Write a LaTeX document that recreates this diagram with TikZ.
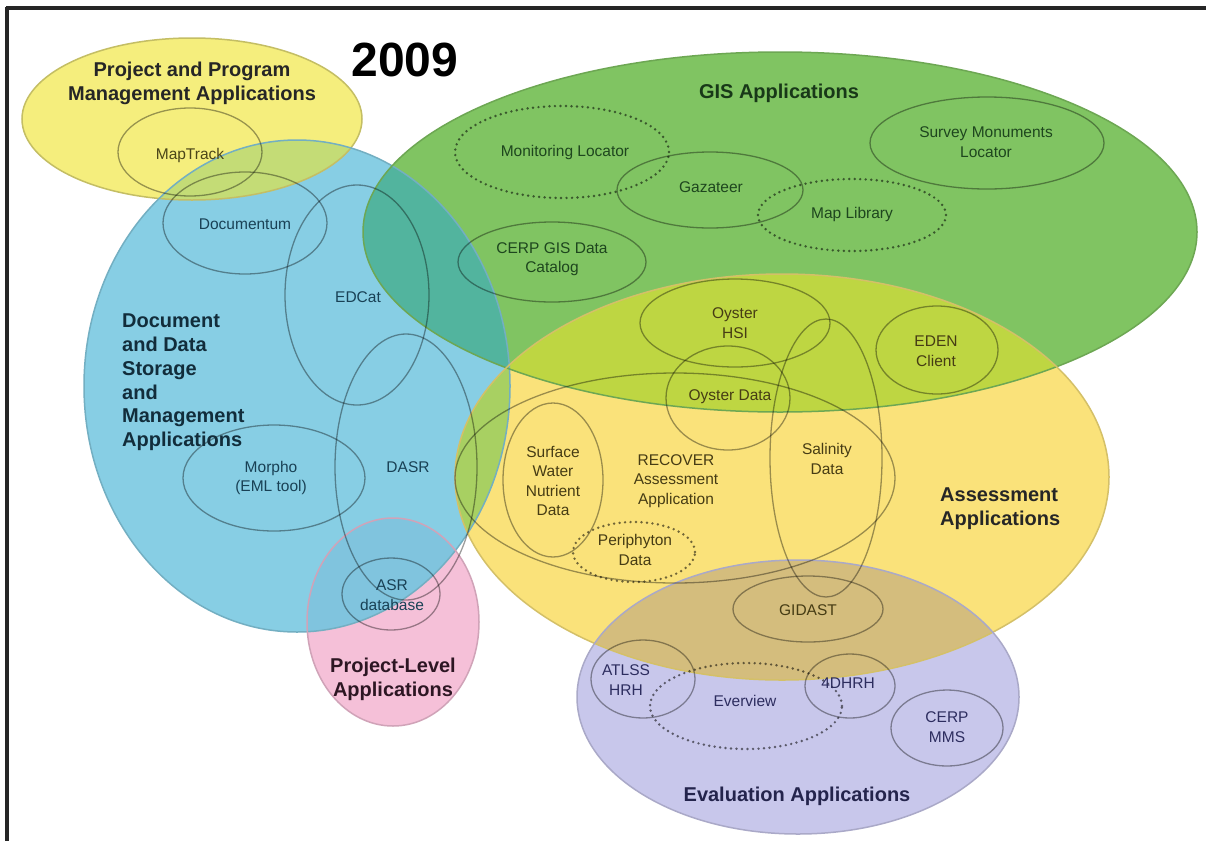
\documentclass[tikz,border=0pt]{standalone}
\usepackage{fontspec}
\setmainfont{Liberation Sans}
\begin{document}
% region colours
\definecolor{ppmFill}{RGB}{245,238,125}
\definecolor{blueFill}{RGB}{135,206,228}
\definecolor{greenFill}{RGB}{128,196,98}
\definecolor{assFill}{RGB}{250,226,122}
\definecolor{evalFill}{RGB}{200,199,235}
\definecolor{pinkFill}{RGB}{245,192,216}
% overlap colours
\definecolor{ppmBlue}{RGB}{196,220,118}
\definecolor{blueGreen}{RGB}{82,180,158}
\definecolor{greenAss}{RGB}{190,214,66}
\definecolor{blueAss}{RGB}{168,208,98}
\definecolor{blueGreenAss}{RGB}{120,196,110}
\definecolor{assEval}{RGB}{212,189,125}
\definecolor{bluePink}{RGB}{128,196,222}
% text colours
\definecolor{txtBlue}{RGB}{25,65,85}
\definecolor{txtGreen}{RGB}{30,70,30}
\definecolor{txtAss}{RGB}{70,60,20}
\definecolor{txtEval}{RGB}{45,45,95}
\definecolor{txtPPM}{RGB}{75,70,25}
\definecolor{txtProj}{RGB}{45,22,35}
% outer ellipses
\def\ePPM{(192,119) ellipse [x radius=170pt, y radius=81pt]}
\def\eBlue{(297,386) ellipse [x radius=213pt, y radius=246pt]}
\def\eGreen{(780,232) ellipse [x radius=417pt, y radius=180pt]}
\def\eAss{(782,477) ellipse [x radius=327pt, y radius=203pt]}
\def\eEval{(798,697) ellipse [x radius=221pt, y radius=137pt]}
\def\ePink{(393,622) ellipse [x radius=86pt, y radius=104pt]}
\begin{tikzpicture}[x=1pt,y=-1pt,
  sub/.style={draw=black, draw opacity=0.38, line width=1.3pt},
  dots/.style={draw=black, draw opacity=0.55, line width=2.7pt, line cap=round, dash pattern=on 0pt off 5.5pt},
  lbl/.style={align=center, inner sep=0pt, font=\fontsize{15.5}{19.5}\selectfont},
  ttl/.style={align=center, inner sep=0pt, font=\fontsize{20}{24}\selectfont\bfseries},
  frameline/.style={draw=black!85, line width=3.5pt}]
\useasboundingbox (0,0) rectangle (1206,841);
\fill[white] (0,0) rectangle (1206,841);

% base fills
\fill[ppmFill] \ePPM;
\fill[blueFill] \eBlue;
\fill[greenFill] \eGreen;
\fill[assFill] \eAss;
\fill[evalFill] \eEval;
\fill[pinkFill] \ePink;

% overlaps
\begin{scope}\clip \eBlue; \fill[ppmBlue] \ePPM; \end{scope}
\begin{scope}\clip \eBlue; \fill[blueGreen] \eGreen; \end{scope}
\begin{scope}\clip \eGreen; \fill[greenAss] \eAss; \end{scope}
\begin{scope}\clip \eBlue; \fill[blueAss] \eAss; \end{scope}
\begin{scope}\clip \eBlue; \clip \eGreen; \fill[blueGreenAss] \eAss; \end{scope}
\begin{scope}\clip \eAss; \fill[assEval] \eEval; \end{scope}
\begin{scope}\clip \eBlue; \fill[bluePink] \ePink; \end{scope}

% outer borders
\draw[line width=1.5pt, draw=ppmFill!80!black] \ePPM;
\draw[line width=1.5pt, draw=blueFill!85!black] \eBlue;
\draw[line width=1.5pt, draw=greenFill!85!black] \eGreen;
\draw[line width=1.5pt, draw=assFill!85!black] \eAss;
\draw[line width=1.5pt, draw=evalFill!85!black] \eEval;
\draw[line width=1.5pt, draw=pinkFill!85!black] \ePink;

% inner application ellipses
\draw[sub] (190,152) ellipse [x radius=72pt, y radius=44pt];   % MapTrack
\draw[sub] (245,223) ellipse [x radius=82pt, y radius=51pt];   % Documentum
\draw[sub] (357,295) ellipse [x radius=72pt, y radius=110pt];  % EDCat
\draw[sub] (406,467) ellipse [x radius=71pt, y radius=133pt];  % DASR
\draw[sub] (274,478) ellipse [x radius=91pt, y radius=53pt];   % Morpho
\draw[sub] (391,594) ellipse [x radius=49pt, y radius=36pt];   % ASR database
\draw[dots] (562,152) ellipse [x radius=107pt, y radius=46pt]; % Monitoring Locator
\draw[sub] (710,190) ellipse [x radius=93pt, y radius=38pt];   % Gazateer
\draw[sub] (987,143) ellipse [x radius=117pt, y radius=46pt];  % Survey Monuments
\draw[dots] (852,215) ellipse [x radius=94pt, y radius=36pt];  % Map Library
\draw[sub] (552,262) ellipse [x radius=94pt, y radius=40pt];   % CERP GIS
\draw[sub] (735,323) ellipse [x radius=95pt, y radius=44pt];   % Oyster HSI
\draw[sub] (937,350) ellipse [x radius=61pt, y radius=44pt];   % EDEN Client
\draw[sub] (728,398) ellipse [x radius=62pt, y radius=52pt];   % Oyster Data
\draw[sub] (675,478) ellipse [x radius=220pt, y radius=105pt]; % RECOVER
\draw[sub] (553,480) ellipse [x radius=50pt, y radius=77pt];   % Surface Water
\draw[dots] (634,552) ellipse [x radius=61pt, y radius=30pt];  % Periphyton
\draw[sub] (826,458) ellipse [x radius=56pt, y radius=139pt];  % Salinity
\draw[sub] (808,609) ellipse [x radius=75pt, y radius=33pt];   % GIDAST
\draw[sub] (643,679) ellipse [x radius=52pt, y radius=39pt];   % ATLSS HRH
\draw[dots] (746,706) ellipse [x radius=96pt, y radius=43pt];  % Everview
\draw[sub] (850,686) ellipse [x radius=45pt, y radius=32pt];   % 4DHRH
\draw[sub] (947,728) ellipse [x radius=56pt, y radius=38pt];   % CERP MMS

% frame
\draw[frameline] (6,8) -- (1206,8);
\draw[frameline] (7,6.5) -- (7,841);

% titles
\node[font=\fontsize{48}{50}\selectfont\bfseries] (year) at (405,60) {2009};
\node[ttl, text=black!85] (tPPM) at (192,83) {Project and Program\\Management Applications};
\node[ttl, text=txtBlue!70!black, align=left, font=\fontsize{20}{23.7}\selectfont\bfseries, anchor=north west] (tDoc) at (122,314) {Document\\and Data\\Storage\\and\\Management\\Applications};
\node[ttl, text=txtGreen!80!black] (tGIS) at (779,93) {GIS Applications};
\node[ttl, text=black!85, align=left, anchor=west] (tAss) at (940,509) {Assessment\\Applications};
\node[ttl, text=txtEval!80!black] (tEval) at (797,796) {Evaluation Applications};
\node[ttl, text=txtProj] (tProj) at (393,679) {Project-Level\\Applications};

% labels
\node[lbl, text=txtPPM] (lMap) at (190,155) {MapTrack};
\node[lbl, text=txtBlue] (lDoc) at (245,224) {Documentum};
\node[lbl, text=txtBlue] (lEDC) at (358,297) {EDCat};
\node[lbl, text=txtBlue] (lDASR) at (408,467) {DASR};
\node[lbl, text=txtBlue] (lMor) at (271,478) {Morpho\\(EML tool)};
\node[lbl, text=txtBlue] (lASR) at (392,595) {ASR\\database};
\node[lbl, text=txtGreen] (lMon) at (565,152) {Monitoring Locator};
\node[lbl, text=txtGreen] (lGaz) at (711,187) {Gazateer};
\node[lbl, text=txtGreen] (lSur) at (986,142) {Survey Monuments\\Locator};
\node[lbl, text=txtGreen] (lMapL) at (852,214) {Map Library};
\node[lbl, text=txtGreen] (lCERP) at (552,259) {CERP GIS Data\\Catalog};
\node[lbl, text=txtAss] (lOHSI) at (735,323) {Oyster\\HSI};
\node[lbl, text=txtAss] (lEDEN) at (936,351) {EDEN\\Client};
\node[lbl, text=txtAss] (lOD) at (730,397) {Oyster Data};
\node[lbl, text=txtAss] (lSW) at (553,481) {Surface\\Water\\Nutrient\\Data};
\node[lbl, text=txtAss] (lREC) at (676,481) {RECOVER\\Assessment\\Application};
\node[lbl, text=txtAss] (lPer) at (635,550) {Periphyton\\Data};
\node[lbl, text=txtAss] (lSal) at (827,459) {Salinity\\Data};
\node[lbl, text=txtAss] (lGID) at (808,610) {GIDAST};
\node[lbl, text=txtEval] (lATL) at (626,680) {ATLSS\\HRH};
\node[lbl, text=txtEval] (lEve) at (745,701) {Everview};
\node[lbl, text=txtEval] (l4D) at (848,683) {4DHRH};
\node[lbl, text=txtEval] (lMMS) at (947,727) {CERP\\MMS};
\end{tikzpicture}
\end{document}
